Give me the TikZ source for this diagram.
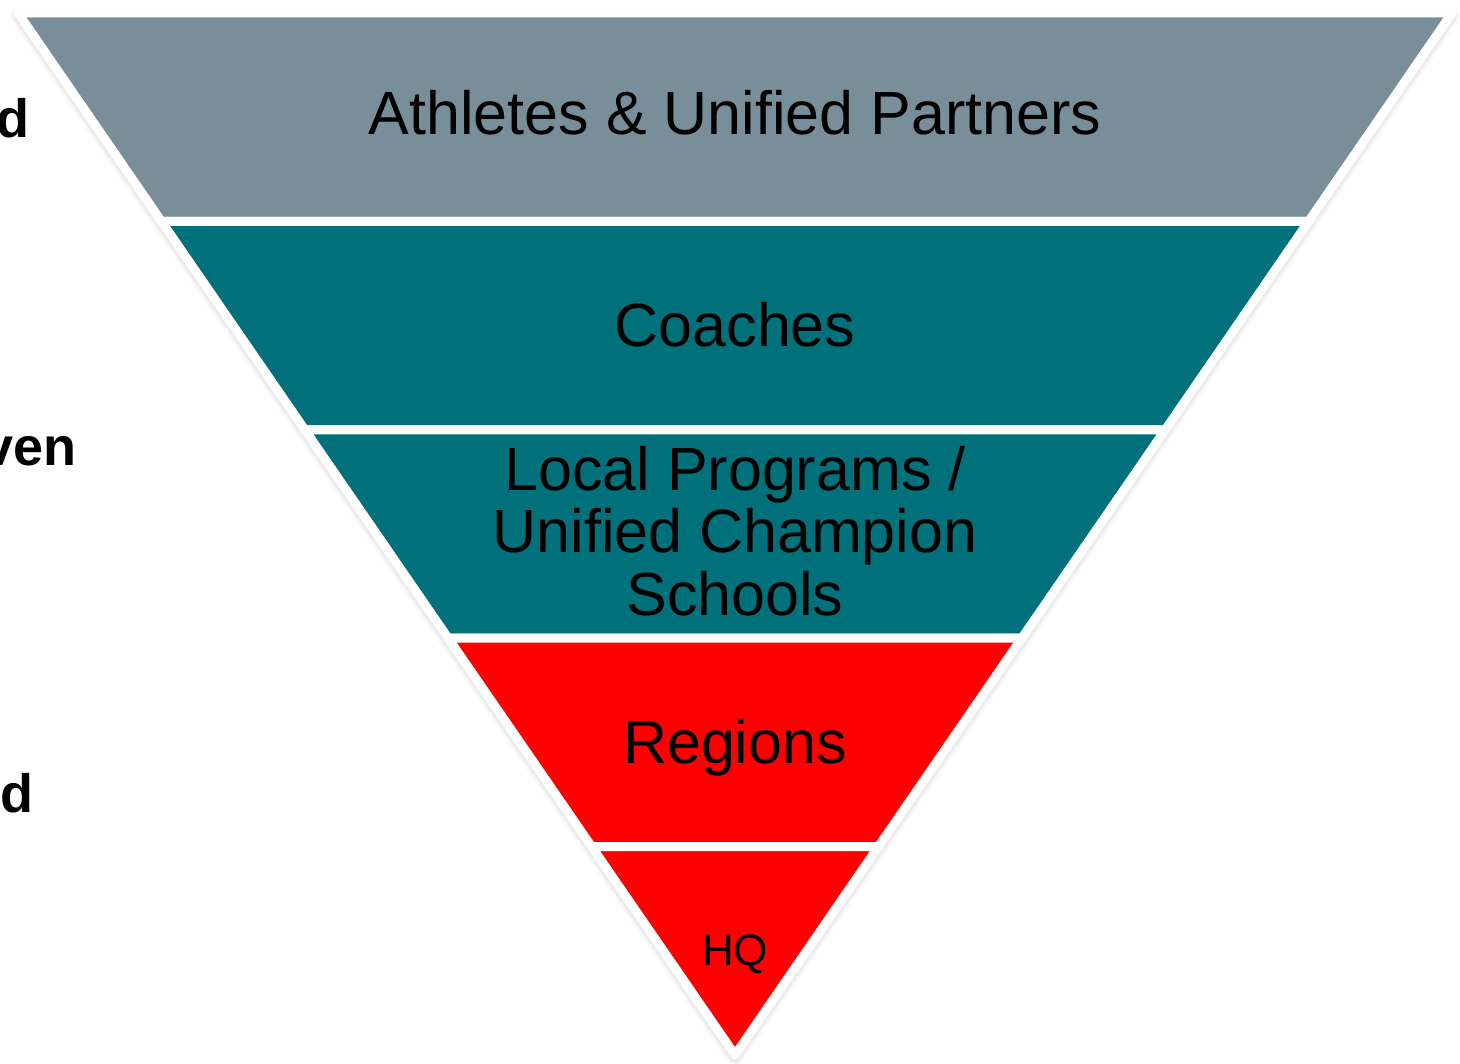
\documentclass[tikz,border=0pt]{standalone}
\usepackage{fontspec}
\setmainfont{Liberation Sans}
\usetikzlibrary{calc,shadows.blur}

\definecolor{bandgray}{RGB}{120,142,153}
\definecolor{bandteal}{RGB}{0,112,122}
\definecolor{bandred}{RGB}{255,0,0}

\begin{document}
\begin{tikzpicture}[x=0.5pt,y=-0.5pt,
  band/.style={line width=4.5pt, draw=white, line join=round},
  bandtext/.style={font=\fontsize{30.5}{31.25}\selectfont, align=center, inner sep=0pt},
  sidetext/.style={font=\fontsize{27}{30}\selectfont\bfseries, anchor=base east, inner sep=0pt}]

  % Fix the page to the size of the image
  \useasboundingbox (0,0) rectangle (1460,1064);

  % Define the corners of the upside-down triangle
  \coordinate (TL) at (18,13);
  \coordinate (TR) at (1452,13);
  \coordinate (T) at (735,1055);

  % Soft shadow behind the whole triangle
  \fill[white, blur shadow={shadow xshift=0pt, shadow yshift=-1.5pt,
    shadow blur radius=4pt, shadow opacity=35}] (TL) -- (TR) -- (T) -- cycle;

  % Draw the five bands, each one a slice of the triangle
  \foreach \i/\col [evaluate=\i as \j using \i/5,
                    evaluate=\i as \k using (\i+1)/5]
      in {0/bandgray,1/bandteal,2/bandteal,3/bandred,4/bandred}{
    \path[band, fill=\col] ($(TL)!\j!(T)$) -- ($(TR)!\j!(T)$)
      -- ($(TR)!\k!(T)$) -- ($(TL)!\k!(T)$) -- cycle;
  }

  % Labels inside the bands
  \node[bandtext, anchor=base] (athletes) at (735,135) {Athletes \& Unified Partners};
  \node[bandtext, anchor=base] (coaches) at (735,346) {Coaches};
  \node[bandtext] (local) at (735,531) {Local Programs /\\Unified Champion\\Schools};
  \node[bandtext, anchor=base] (regions) at (735,763) {Regions};
  \node[bandtext, anchor=base, font=\fontsize{22}{24}\selectfont] (hq) at (735,965) {HQ};

  % Words cut off at the left edge of the image
  \node[sidetext] (side1) at (30,138) {d};
  \node[sidetext] (side2) at (77,465) {ven};
  \node[sidetext] (side3) at (34,812) {d};

\end{tikzpicture}
\end{document}
